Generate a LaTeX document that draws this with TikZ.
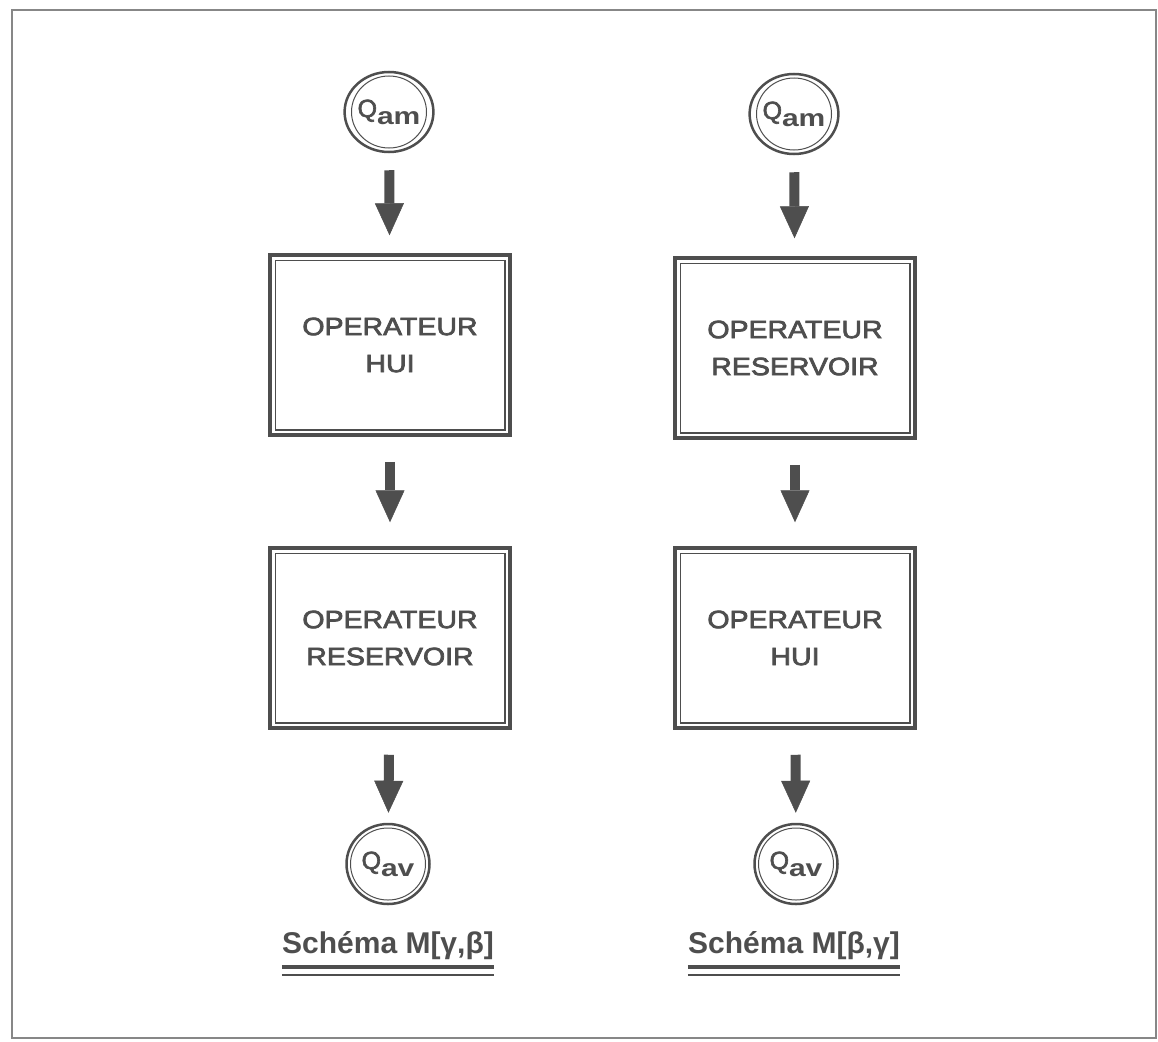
\documentclass[tikz,border=0pt]{standalone}
\usepackage{fontspec}
\setmainfont{Liberation Sans}
\newfontfamily\widefont{Liberation Sans}[FakeStretch=1.14,FakeBold=3]
\newfontfamily\subfont{Liberation Sans}[FakeStretch=1.25]
\newfontfamily\qfont{Liberation Sans}[FakeBold=2.5]
\usetikzlibrary{arrows.meta,shapes.geometric}
\definecolor{ink}{RGB}{78,78,78}
\definecolor{framecol}{RGB}{135,135,135}
\newcommand{\myQ}[1]{{\qfont\fontsize{25}{25}\selectfont Q}\raisebox{-7pt}{\subfont\bfseries\fontsize{24}{24}\selectfont #1}}
\begin{document}
\begin{tikzpicture}[x=1pt,y=-1pt,
  opbox/.style={draw=ink, line width=3.5pt, minimum width=240pt, minimum height=180pt, inner sep=0pt, align=center, text=ink, font=\widefont\fontsize{25}{37}\selectfont},
  qnode/.style={ellipse, draw=ink, line width=2.5pt, minimum width=83pt, minimum height=80pt, inner sep=0pt, text=ink},
  qinner/.style={ellipse, draw=ink, line width=1pt, minimum width=75pt, minimum height=72pt, inner sep=0pt},
  flow/.style={draw=ink, line width=10pt, -{Triangle[width=29pt,length=32pt,line width=0.5pt]}},
  titlenode/.style={text=ink, font=\bfseries\fontsize{30}{34}\selectfont, inner sep=0pt, anchor=base}
]
\useasboundingbox (0,0) rectangle (1158,1041);
\draw[framecol, line width=1.5pt] (12,10) rectangle (1156,1038);

% left column
\node[qnode] (lq1) at (389,112) {\myQ{am}};
\node[opbox] (l1) at (390,345) {OPERATEUR\\HUI};
\node[opbox] (l2) at (390,638) {OPERATEUR\\RESERVOIR};
\node[qnode] (lq2) at (388,864) {\myQ{av}};
\node[titlenode] (lt) at (388,953) {Schéma M[γ,β]};

% right column
\node[qnode] (rq1) at (794,114) {\myQ{am}};
\node[opbox] (r1) at (795,348) {OPERATEUR\\RESERVOIR};
\node[opbox] (r2) at (795,638) {OPERATEUR\\HUI};
\node[qnode] (rq2) at (796,864) {\myQ{av}};
\node[titlenode] (rt) at (794,953) {Schéma M[β,γ]};

% inner outlines
\foreach \b in {l1,l2,r1,r2}
  \draw[ink, line width=1.5pt] ([xshift=7pt,yshift=-7pt]\b.north west) rectangle ([xshift=-7pt,yshift=7pt]\b.south east);
\foreach \q in {lq1,lq2,rq1,rq2}
  \node[qinner] at (\q) {};

% arrows
\draw[flow, shorten <=17pt, shorten >=18pt] (lq1) -- (l1);
\draw[flow, shorten <=25pt, shorten >=24pt] (l1) -- (l2);
\draw[flow, shorten <=25pt, shorten >=10pt] (l2) -- (lq2);
\draw[flow, shorten <=17pt, shorten >=18pt] (rq1) -- (r1);
\draw[flow, shorten <=25pt, shorten >=24pt] (r1) -- (r2);
\draw[flow, shorten <=25pt, shorten >=10pt] (r2) -- (rq2);

% underlines
\foreach \t in {lt,rt}{
  \draw[ink, line width=4pt] ([yshift=-14pt]\t.base west) -- ([yshift=-14pt]\t.base east);
  \draw[ink, line width=1.5pt] ([yshift=-22pt]\t.base west) -- ([yshift=-22pt]\t.base east);
}
\end{tikzpicture}
\end{document}
